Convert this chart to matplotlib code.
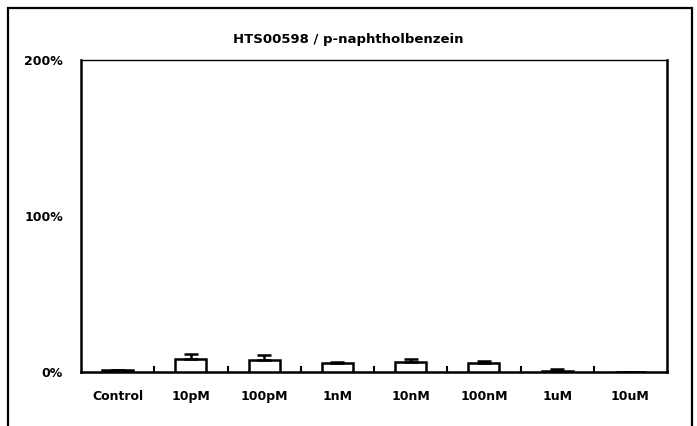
import numpy as np
import matplotlib
matplotlib.use('Agg')
import matplotlib.pyplot as plt
from matplotlib.patches import Rectangle

TITLE = 'HTS00598 / p-naphtholbenzein'
CATEGORIES = ['Control', '10pM', '100pM', '1nM', '10nM', '100nM', '1uM', '10uM']
VALUES = [1.0, 8.3, 8.0, 5.5, 6.5, 5.5, 0.8, 0.0]
ERRORS = [0.0, 3.2, 3.0, 1.0, 2.0, 1.5, 1.2, 0.0]
Y_TICKS = [0, 100, 200]
Y_LABELS = ['0%', '100%', '200%']

fig = plt.figure(figsize=(6.97, 4.26), dpi=100)
fig.patch.set_facecolor('white')

# outer chart frame
fig.patches.append(Rectangle((8 / 697, -0.05), 684 / 697, 1.05 - 8 / 426,
                             transform=fig.transFigure, fill=False,
                             edgecolor='black', linewidth=1.6))

ax = fig.add_axes([81 / 697, 1 - 372 / 426, 586 / 697, 312 / 426])
x = np.arange(len(CATEGORIES))

ax.bar(x, VALUES, 0.42, color='white', edgecolor='black', linewidth=1.8, zorder=3)
ax.errorbar(x, VALUES, yerr=[np.zeros(len(ERRORS)), ERRORS], fmt='none',
            ecolor='black', elinewidth=1.8, capsize=5, capthick=1.8, zorder=4)

ax.set_xlim(-0.5, len(CATEGORIES) - 0.5)
ax.set_ylim(0, 200)
ax.set_yticks(Y_TICKS)
ax.set_yticklabels(Y_LABELS, fontsize=9, fontweight='bold')
ax.tick_params(axis='y', length=0, pad=13)

# category labels below, boundary ticks pointing in
ax.set_xticks(x)
ax.set_xticklabels(CATEGORIES, fontsize=9, fontweight='bold')
ax.tick_params(axis='x', length=0, pad=13)
for b in np.arange(0.5, len(CATEGORIES) - 0.5, 1.0):
    ax.plot([b, b], [0, 3], color='black', linewidth=1.5, clip_on=False, zorder=5)

for side in ['left', 'bottom', 'right']:
    ax.spines[side].set_linewidth(1.8)
ax.spines['top'].set_linewidth(1.0)
ax.spines['top'].set_linestyle((0, (3, 1)))

fig.text(348 / 697, 1 - 40 / 426, TITLE, ha='center', va='center',
         fontsize=9.5, fontweight='bold')

fig.savefig('out.png', dpi=100)
